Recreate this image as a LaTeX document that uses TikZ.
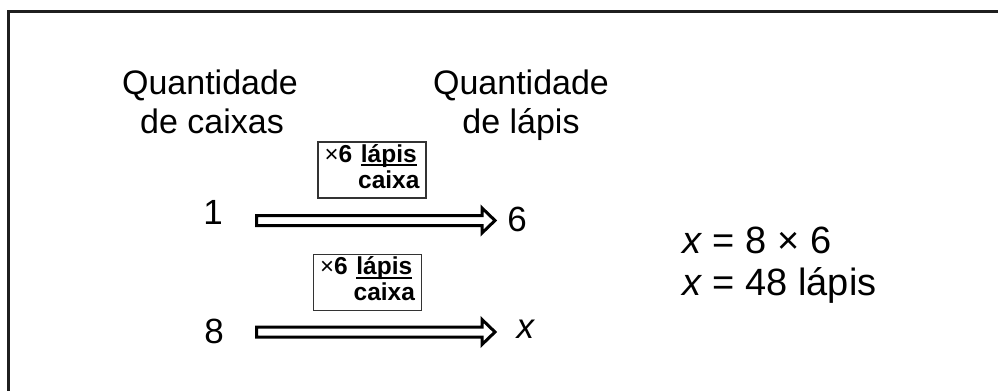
\documentclass[tikz,border=0pt]{standalone}
\usepackage{fontspec}
\setmainfont{Liberation Sans}
\usetikzlibrary{calc}

% thick underline drawn as a rule beneath the text
\newcommand\thickul[1]{\setbox0\hbox{#1}\leavevmode\rlap{\rule[-4pt]{\wd0}{2pt}}\box0}
% open block arrow from #1 to the tip #2
\newcommand\fatarrow[2]{%
  \draw[blockarrow] ($(#1)+(0,-5)$) -- ($(#2)+(-13,-5)$) -- ($(#2)+(-13,-12.5)$)
    -- (#2) -- ($(#2)+(-13,12.5)$) -- ($(#2)+(-13,5)$) -- ($(#1)+(0,5)$) -- cycle;}

\tikzset{
  head/.style={anchor=base, inner sep=0pt, font=\fontsize{34}{40}\selectfont},
  num/.style={anchor=base, inner sep=0pt, font=\fontsize{35}{40}\selectfont},
  eq/.style={anchor=base west, inner sep=0pt, font=\fontsize{38}{42}\selectfont},
  rate/.style={draw=black!80, line width=1.4pt, minimum width=108pt, minimum height=56pt,
    inner sep=0pt, font=\fontsize{24.5}{27}\selectfont\bfseries},
  blockarrow/.style={draw=black, fill=white, line width=3pt, line join=miter},
  frame/.style={draw=black!88, line width=3pt}
}

\newcommand\ratetext{%
  \begin{tabular}{@{}r@{\hspace{6pt}}c@{}}
    {\mdseries\fontsize{24}{26}\selectfont ×}6 & \thickul{lápis}\\[-1pt]
    & caixa
  \end{tabular}}

\begin{document}
\begin{tikzpicture}[x=1pt, y=-1pt]
  \useasboundingbox (0,0) rectangle (998,391);
  \fill[white] (0,0) rectangle (998,391);

  % outer frame (top and left edges)
  \draw[frame] (998,11.5) -- (8.5,11.5) -- (8.5,391);

  % column headings
  \node[head] (h1a) at (210,94) {Quantidade};
  \node[head] (h1b) at (212,133) {de caixas};
  \node[head] (h2a) at (521,94) {Quantidade};
  \node[head] (h2b) at (521,133) {de lápis};

  % quantities
  \node[num] (one)   at (213,224) {1};
  \node[num] (six)   at (517,231) {6};
  \node[num] (eight) at (214,343) {8};
  \node[num] (xx)    at (526,338) {\textit{x}};

  % arrow end points
  \coordinate (s1) at ($(one.base)+(43.5,-3.5)$);
  \coordinate (t1) at ($(six.base)+(-22,-10.5)$);
  \coordinate (s2) at ($(eight.base)+(42.5,-11)$);
  \coordinate (t2) at ($(xx.base)+(-31,-6)$);

  \fatarrow{s1}{t1}
  \fatarrow{s2}{t2}

  % rate boxes
  \node[rate] (r1) at (372,170) {\ratetext};
  \node[rate] (r2) at (367.5,282.5) {\ratetext};

  % result
  \node[eq] (e1) at (682,253) {\textit{x} = 8 × 6};
  \node[eq] (e2) at (682,295) {\textit{x} = 48 lápis};
\end{tikzpicture}
\end{document}
